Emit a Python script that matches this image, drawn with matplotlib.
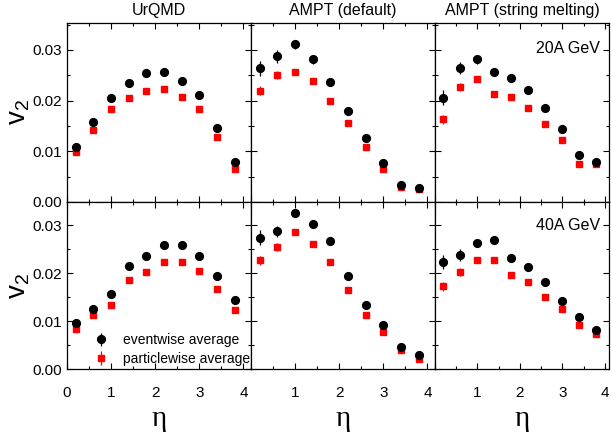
"""v2(eta) at 20A and 40A GeV: UrQMD vs AMPT (default / string melting),
eventwise vs particlewise average."""

import matplotlib

matplotlib.use("Agg")
import matplotlib.pyplot as plt  # noqa: E402
from matplotlib.ticker import MultipleLocator  # noqa: E402

plt.rcParams["font.family"] = ["Liberation Sans", "DejaVu Sans"]

eta = [0.2, 0.6, 1.0, 1.4, 1.8, 2.2, 2.6, 3.0, 3.4, 3.8]

models = ["UrQMD", "AMPT (default)", "AMPT (string melting)"]
energies = ["20A GeV", "40A GeV"]

# 20A GeV
ev_urqmd_20 = [0.0108, 0.0157, 0.0205, 0.0234, 0.0254, 0.0256, 0.0239, 0.0210, 0.0146, 0.0079]
pw_urqmd_20 = [0.0098, 0.0141, 0.0183, 0.0205, 0.0219, 0.0222, 0.0208, 0.0184, 0.0128, 0.0066]
ev_def_20 = [0.0264, 0.0287, 0.0311, 0.0281, 0.0237, 0.0180, 0.0126, 0.0077, 0.0034, 0.0028]
pw_def_20 = [0.0219, 0.0250, 0.0257, 0.0239, 0.0200, 0.0155, 0.0108, 0.0066, 0.0030, 0.0025]
ev_sm_20 = [0.0206, 0.0265, 0.0281, 0.0256, 0.0245, 0.0221, 0.0185, 0.0143, 0.0092, 0.0079]
pw_sm_20 = [0.0163, 0.0227, 0.0242, 0.0213, 0.0207, 0.0186, 0.0154, 0.0122, 0.0075, 0.0074]

# 40A GeV
ev_urqmd_40 = [0.0097, 0.0126, 0.0156, 0.0214, 0.0235, 0.0259, 0.0258, 0.0235, 0.0194, 0.0145]
pw_urqmd_40 = [0.0084, 0.0114, 0.0135, 0.0185, 0.0203, 0.0223, 0.0223, 0.0204, 0.0168, 0.0124]
ev_def_40 = [0.0274, 0.0287, 0.0325, 0.0303, 0.0266, 0.0194, 0.0135, 0.0093, 0.0047, 0.0030]
pw_def_40 = [0.0227, 0.0254, 0.0285, 0.0261, 0.0223, 0.0165, 0.0114, 0.0077, 0.0040, 0.0022]
ev_sm_40 = [0.0223, 0.0238, 0.0263, 0.0270, 0.0232, 0.0213, 0.0181, 0.0143, 0.0110, 0.0082]
pw_sm_40 = [0.0173, 0.0203, 0.0227, 0.0227, 0.0196, 0.0181, 0.0151, 0.0125, 0.0093, 0.0074]

# statistical errors (AMPT only; UrQMD errors hidden by markers)
err_ev_ampt = [0.0015, 0.0012, 0.0009, 0.0008, 0.0006, 0.0005, 0.0005, 0.0005, 0.0006, 0.0007]
err_pw_ampt = [0.0009, 0.0008, 0.0006, 0.0005, 0.0004, 0.0004, 0.0003, 0.0004, 0.0005, 0.0005]
err_urqmd = [0.0003] * 10

panels = [
    [(ev_urqmd_20, pw_urqmd_20, err_urqmd, err_urqmd),
     (ev_def_20, pw_def_20, err_ev_ampt, err_pw_ampt),
     (ev_sm_20, pw_sm_20, err_ev_ampt, err_pw_ampt)],
    [(ev_urqmd_40, pw_urqmd_40, err_urqmd, err_urqmd),
     (ev_def_40, pw_def_40, err_ev_ampt, err_pw_ampt),
     (ev_sm_40, pw_sm_40, err_ev_ampt, err_pw_ampt)],
]

fig = plt.figure(figsize=(6.11, 4.37), dpi=100)
lefts = [0.1096, 0.4108, 0.7119]
widths = [0.3012, 0.3011, 0.2848]
xmax = [4.17, 4.17, 4.1]
rows = [(0.5378, 0.4096), (0.1545, 0.3833)]

for r, (bottom, height) in enumerate(rows):
    for c in range(3):
        ax = fig.add_axes([lefts[c], bottom, widths[c], height])
        ev, pw, eev, epw = panels[r][c]
        ax.errorbar(eta, ev, yerr=eev, fmt="o", color="black", ms=5.6,
                    elinewidth=0.9, capsize=0, label="eventwise average", zorder=3)
        ax.errorbar(eta, pw, yerr=epw, fmt="s", color="#ff0000", ms=5.0,
                    elinewidth=0.9, ecolor="#ff0000", capsize=0,
                    label="particlewise average", zorder=2)
        ax.set_xlim(0, xmax[c])
        ax.set_ylim(0, 0.0353 if r == 0 else 0.0348)
        ax.xaxis.set_major_locator(MultipleLocator(1))
        ax.xaxis.set_minor_locator(MultipleLocator(0.5))
        ax.yaxis.set_major_locator(MultipleLocator(0.01))
        ax.yaxis.set_minor_locator(MultipleLocator(0.005))
        ax.tick_params(which="both", direction="in", top=True, right=True,
                       labelsize=11, width=0.8)
        ax.tick_params(which="major", length=4)
        ax.tick_params(which="minor", length=2.5)
        ax.tick_params(axis="x", which="major", pad=12)
        for s in ax.spines.values():
            s.set_linewidth(0.9)
        ax.yaxis.set_major_formatter(plt.FuncFormatter(lambda v, p: f"{v:.2f}"))
        if c > 0:
            ax.set_yticklabels([])
        else:
            ax.set_ylabel(r"$\mathregular{v_2}$", fontsize=20, labelpad=0)
        if r == 0:
            ax.set_xticklabels([])
            ax.set_title(models[c], fontsize=11.5, pad=6)
        else:
            ax.xaxis.set_major_formatter(
                plt.FuncFormatter(lambda v, p, c=c: "" if (c > 0 and v == 0) else f"{v:g}"))
            ax.set_xlabel("η", fontsize=21, family="Liberation Serif", labelpad=4)
        if c == 2:
            ax.text(0.95, 0.86, energies[r], transform=ax.transAxes,
                    ha="right", va="center", fontsize=11.5)
        if r == 1 and c == 0:
            ax.legend(loc="lower left", bbox_to_anchor=(0.065, -0.03), frameon=False,
                      fontsize=10, handletextpad=0.6, labelspacing=0.35,
                      borderaxespad=0.2)

fig.savefig("out.png", dpi=100)
